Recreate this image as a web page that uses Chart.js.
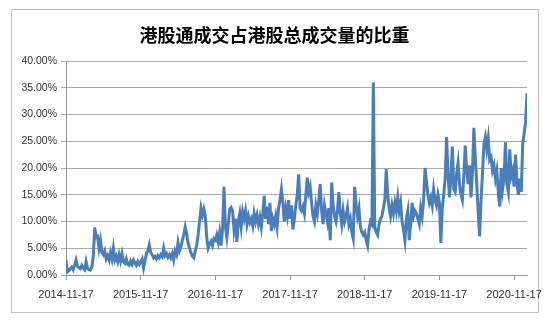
<!DOCTYPE html>
<html>
<head>
<meta charset="utf-8">
<script src="https://cdn.jsdelivr.net/npm/chart.js@4"></script>
<style>
  html, body { margin: 0; padding: 0; background: #fff; }
  #wrap { width: 554px; height: 323px; }
</style>
</head>
<body>
<div id="wrap"><canvas id="grafico" width="554" height="323"></canvas></div>
<script>
  const titulo = '港股通成交占港股总成交量的比重';
  const rotulosAno = ['2014-11-17', '2015-11-17', '2016-11-17', '2017-11-17', '2018-11-17', '2019-11-17', '2020-11-17'];
  const semanasPorAno = 52;
  const ticksY = [0, 5, 10, 15, 20, 25, 30, 35, 40];

  // proporção semanal (%)
  const ano1 = [2.8, 0.6, 0.8, 1.2, 1.5, 1.0, 1.8, 2.8, 1.6, 1.4, 1.2, 1.8, 1.3, 1.0, 2.5, 1.2, 1.0, 0.9, 1.5,
    3.5, 8.9, 7.0,
    7.2, 5.0, 6.5, 4.2, 3.8, 4.5, 3.0, 3.6, 2.8, 4.2, 3.0, 5.0, 2.8, 3.5, 2.5, 3.8, 2.6, 4.0, 2.5, 2.2,
    3.0, 2.0, 1.8, 2.6, 2.0, 2.8, 2.2, 1.8, 2.5, 2.0];
  const ano2 = [2.5, 3.0, 1.3, 2.6, 4.0, 4.5, 5.6, 4.2, 3.8, 3.2, 3.5, 3.0, 3.6, 3.2, 3.8, 3.4, 5.0, 3.6, 4.0, 3.3,
    3.8, 3.2, 4.0, 2.8, 4.5, 3.8, 6.0, 4.5, 5.2, 6.5, 7.5, 9.0, 7.8, 6.0, 5.0, 4.2, 3.5, 3.2, 4.5, 5.5,
    7.5, 10.0, 12.5, 11.2, 12.3, 11.0, 7.0, 5.0, 5.8, 6.3, 5.5, 6.8];
  const ano3 = [6.5, 7.5, 6.2, 8.0, 5.5, 8.5, 16.5, 9.0, 7.0, 9.5, 12.3, 12.6, 12.0, 8.5, 10.5, 6.2, 10.0, 11.5,
    9.0, 11.8, 10.5, 12.0, 9.5, 11.0, 9.8, 10.5, 9.2, 11.5, 10.0, 11.2, 9.5, 10.8, 9.0, 11.5, 14.8, 10.5,
    12.8, 9.5, 13.5, 8.2, 10.5, 9.5, 11.0, 9.0, 12.5, 14.0, 16.0, 13.5, 10.0, 12.5, 11.0, 14.0];
  const ano4 = [10.5, 13.0, 8.5, 10.5, 13.0, 15.0, 18.8, 12.5, 12.0, 12.8, 11.5, 15.0, 18.2, 15.5, 16.5, 13.5,
    11.0, 10.0, 13.0, 11.5, 14.0, 17.0, 12.0, 9.5, 13.0, 11.5, 10.0, 12.5, 6.5, 17.3, 13.0, 11.0, 10.0,
    12.0, 15.5, 11.5, 9.5, 12.0, 10.0, 11.0, 12.5, 9.5, 10.5, 8.0, 6.8, 16.5, 13.0, 11.0, 12.5, 9.0, 8.0,
    7.5, 8.0];
  const ano5 = [6.5, 5.5, 8.5, 10.0, 9.5, 36.0, 9.0, 8.0, 7.5, 9.5, 10.5, 11.0, 12.5, 14.0, 19.8, 15.0, 12.5,
    11.0, 13.0, 11.5, 13.5, 12.0, 14.5, 12.0, 13.5, 10.0, 8.5, 6.5, 10.5, 12.0, 6.5, 9.5, 13.5, 11.0, 12.0,
    11.5, 10.5, 9.5, 12.5, 11.0, 14.0, 20.0, 17.5, 15.0, 13.5, 14.5, 13.0, 16.0, 14.0, 13.0, 15.0, 13.5];
  const ano6 = [6.0, 12.5, 15.0, 18.0, 25.8, 19.0, 14.5, 18.0, 24.0, 16.0, 15.5, 19.0, 21.0, 17.0, 15.0, 14.0,
    18.5, 24.2, 19.5, 17.0, 20.5, 14.5, 19.0, 27.5, 22.0, 17.0, 12.0, 7.2, 14.0, 19.0, 24.5, 25.8, 23.5,
    25.5, 21.5, 22.0, 19.5, 20.5, 18.0, 19.5, 15.5, 12.8, 20.0, 16.0, 18.0, 24.8, 17.0, 15.5, 23.5, 18.5,
    19.5, 16.5, 22.5, 17.5, 15.0, 18.0, 15.5, 24.5, 26.5, 28.5, 34.0];

  const proporcao = [...ano1, ...ano2, ...ano3, ...ano4, ...ano5, ...ano6];

  const moldura = {
    id: 'moldura',
    beforeDraw(chart) {
      const c = chart.ctx;
      c.save();
      c.fillStyle = '#fff';
      c.fillRect(0, 0, chart.width, chart.height);
      c.strokeStyle = '#BFBFBF';
      c.lineWidth = 1;
      c.strokeRect(11.5, 9.5, 527, 303);
      c.restore();
    }
  };

  const ctx = document.getElementById('grafico').getContext('2d');
  new Chart(ctx, {
    type: 'line',
    data: {
      datasets: [{
        label: titulo,
        data: proporcao.map((v, i) => ({ x: i, y: v })),
        borderColor: '#4A7EBB',
        borderWidth: 3,
        pointRadius: 0,
        tension: 0,
        fill: false
      }]
    },
    options: {
      responsive: false,
      animation: false,
      layout: { padding: { left: 22, right: 27, top: 0, bottom: 0 } },
      plugins: {
        legend: { display: false },
        tooltip: { enabled: false },
        title: {
          display: true,
          text: titulo,
          color: '#000',
          font: { family: '"Noto Sans CJK SC"', size: 18, weight: 'bold', lineHeight: 1.2 },
          padding: { top: 24, bottom: 15.4 }
        }
      },
      scales: {
        x: {
          type: 'linear',
          min: 0,
          max: proporcao.length - 1,
          afterBuildTicks: s => { s.ticks = rotulosAno.map((_, i) => ({ value: i * semanasPorAno })); },
          afterFit: s => { s.height = 48; },
          ticks: {
            callback: (v, i) => rotulosAno[i],
            maxRotation: 0,
            autoSkip: false,
            padding: 8,
            color: '#333',
            font: { family: '"Liberation Sans"', size: 11 }
          },
          grid: { drawOnChartArea: false, tickLength: 5, color: '#999' },
          border: { color: '#999' }
        },
        y: {
          min: 0,
          max: 40,
          afterBuildTicks: s => { s.ticks = ticksY.map(v => ({ value: v })); },
          afterFit: s => { s.width = 44; },
          ticks: {
            callback: v => v.toFixed(2) + '%',
            padding: 4,
            color: '#333',
            font: { family: '"Liberation Sans"', size: 10.5 }
          },
          grid: { color: '#ABABAB', tickLength: 5 },
          border: { color: '#999' }
        }
      }
    },
    plugins: [moldura]
  });
</script>
</body>
</html>
